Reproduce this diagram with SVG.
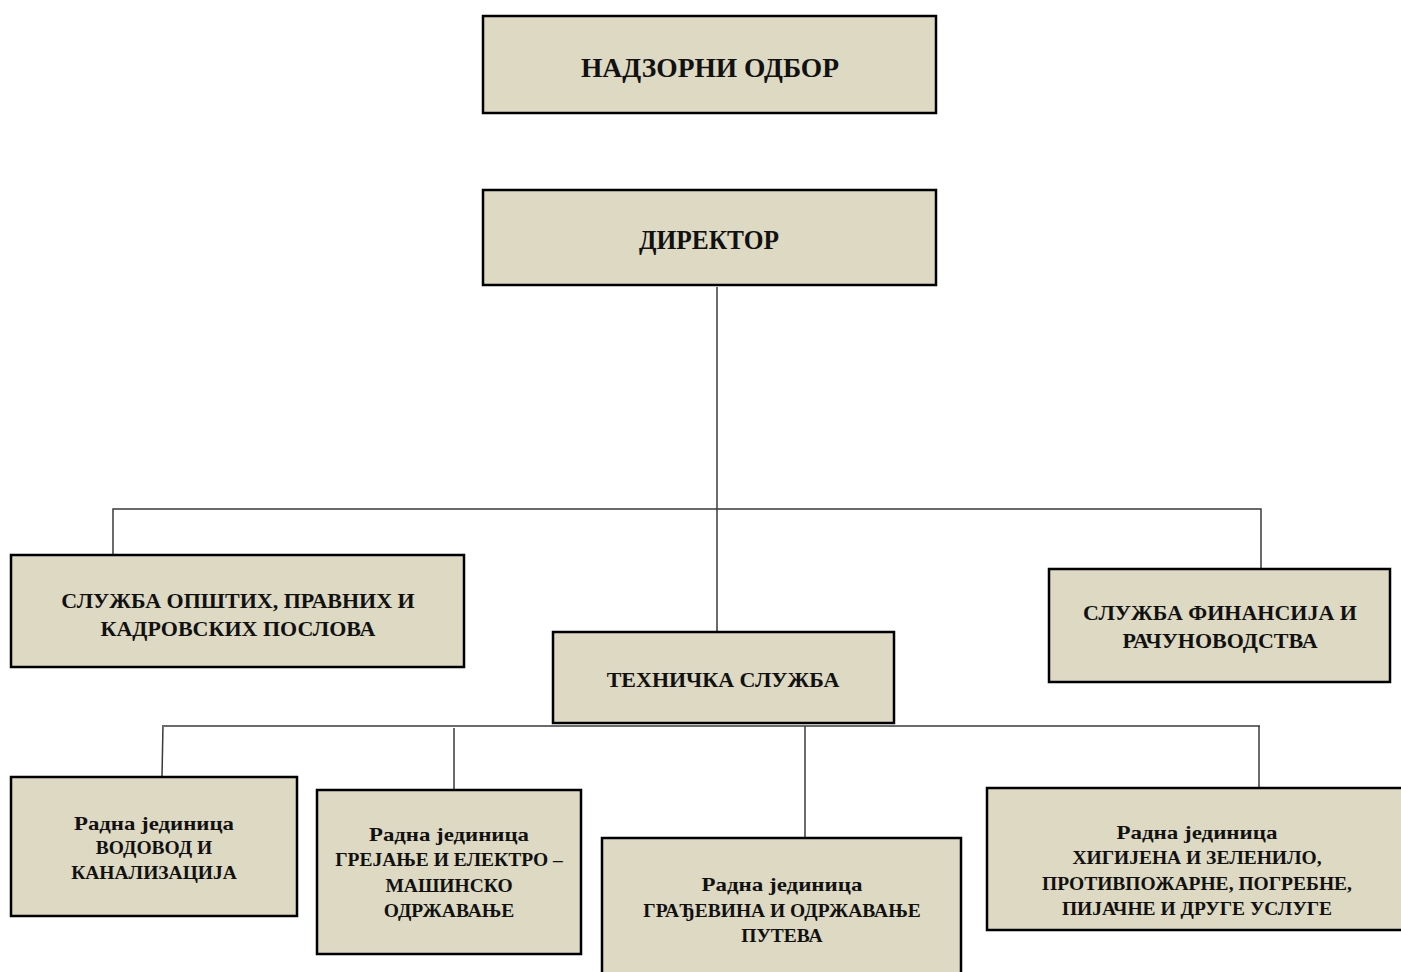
<svg xmlns="http://www.w3.org/2000/svg" width="1401" height="972" viewBox="0 0 1401 972">
<style>
.box{fill:#DDD9C3;stroke:#000;stroke-width:2.5}
.t{font-family:"Liberation Serif","DejaVu Serif",serif;font-weight:bold;fill:#111;text-anchor:middle}
.big{font-size:27px}
.mid{font-size:22px}
.sm{font-size:19.5px}
.c{stroke:#3a3a3a;stroke-width:1.5;fill:none}
</style>
<rect width="1401" height="972" fill="#fff"/>
<g id="connectors">
<line class="c" x1="717" y1="287" x2="717" y2="636"/>
<polyline class="c" points="113,555 113,509 1261,509 1261,569"/>
<line class="c" x1="164" y1="726" x2="1260" y2="726"/>
<line class="c" x1="163" y1="725" x2="162" y2="777"/>
<line class="c" x1="454" y1="728" x2="454" y2="790"/>
<line class="c" x1="805" y1="726" x2="805" y2="838"/>
<line class="c" x1="1259" y1="726" x2="1259" y2="788"/>
</g>
<g id="nadzorni">
<rect class="box" x="483" y="16" width="453" height="97"/>
<text class="t big" x="710" y="77" textLength="258" lengthAdjust="spacingAndGlyphs">НАДЗОРНИ ОДБОР</text>
</g>
<g id="direktor">
<rect class="box" x="483" y="190" width="453" height="95"/>
<text class="t big" x="709" y="249" textLength="140" lengthAdjust="spacingAndGlyphs">ДИРЕКТОР</text>
</g>
<g id="opsti">
<rect class="box" x="11" y="555" width="453" height="112"/>
<text class="t mid" x="238" y="608">СЛУЖБА ОПШТИХ, ПРАВНИХ И</text>
<text class="t mid" x="238" y="636">КАДРОВСКИХ ПОСЛОВА</text>
</g>
<g id="finansije">
<rect class="box" x="1049" y="569" width="341" height="113"/>
<text class="t mid" x="1220" y="620">СЛУЖБА ФИНАНСИЈА И</text>
<text class="t mid" x="1220" y="648">РАЧУНОВОДСТВА</text>
</g>
<g id="tehnicka">
<rect class="box" x="553" y="632" width="341" height="91"/>
<text class="t mid" x="723" y="687">ТЕХНИЧКА СЛУЖБА</text>
</g>
<g id="vodovod">
<rect class="box" x="11" y="777" width="286" height="139"/>
<text class="t sm" x="154" y="830" textLength="160" lengthAdjust="spacingAndGlyphs">Радна јединица</text>
<text class="t sm" x="154" y="854">ВОДОВОД И</text>
<text class="t sm" x="154" y="879">КАНАЛИЗАЦИЈА</text>
</g>
<g id="grejanje">
<rect class="box" x="317" y="790" width="264" height="164"/>
<text class="t sm" x="449" y="841" textLength="160" lengthAdjust="spacingAndGlyphs">Радна јединица</text>
<text class="t sm" x="449" y="866">ГРЕЈАЊЕ И ЕЛЕКТРО –</text>
<text class="t sm" x="449" y="892">МАШИНСКО</text>
<text class="t sm" x="449" y="917">ОДРЖАВАЊЕ</text>
</g>
<g id="gradjevina">
<rect class="box" x="602" y="838" width="359" height="145"/>
<text class="t sm" x="782" y="891" textLength="161" lengthAdjust="spacingAndGlyphs">Радна јединица</text>
<text class="t sm" x="782" y="917">ГРАЂЕВИНА И ОДРЖАВАЊЕ</text>
<text class="t sm" x="782" y="942">ПУТЕВА</text>
</g>
<g id="higijena">
<rect class="box" x="987" y="788" width="421" height="142"/>
<text class="t sm" x="1197" y="839" textLength="161" lengthAdjust="spacingAndGlyphs">Радна јединица</text>
<text class="t sm" x="1197" y="864">ХИГИЈЕНА И ЗЕЛЕНИЛО,</text>
<text class="t sm" x="1197" y="890">ПРОТИВПОЖАРНЕ, ПОГРЕБНЕ,</text>
<text class="t sm" x="1197" y="915">ПИЈАЧНЕ И ДРУГЕ УСЛУГЕ</text>
</g>
</svg>
